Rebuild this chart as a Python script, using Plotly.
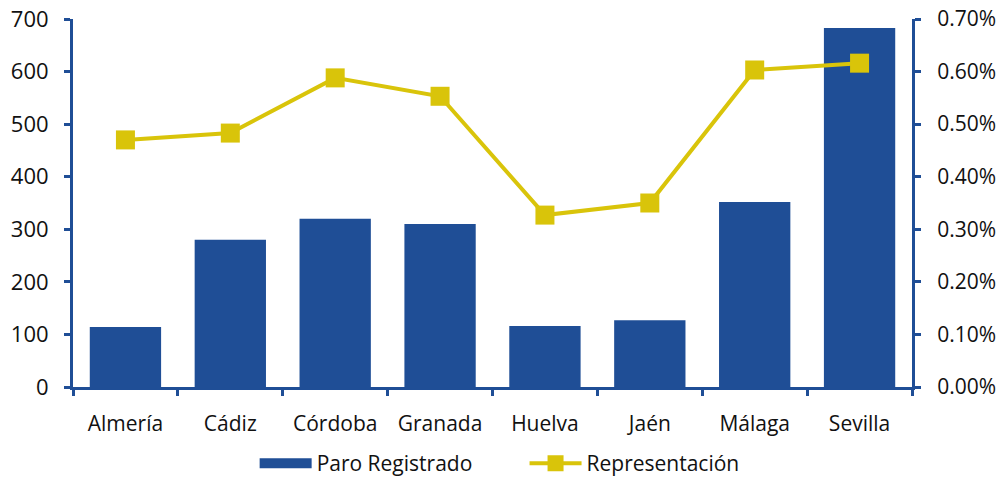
import plotly.graph_objects as go

provincias = ["Almería", "Cádiz", "Córdoba", "Granada", "Huelva", "Jaén", "Málaga", "Sevilla"]
paro_registrado = [114, 280, 320, 310, 116, 127, 352, 683]
representacion = [0.00470, 0.00483, 0.00588, 0.00553, 0.00327, 0.00350, 0.00603, 0.00616]

left_ticks = [0, 100, 200, 300, 400, 500, 600, 700]
right_ticks = [0, 0.001, 0.002, 0.003, 0.004, 0.005, 0.006, 0.007]

BLUE = "#1F4E96"
YELLOW = "#D9C40A"
FONT = "Open Sans"
FS = 21

fig = go.Figure()
fig.add_trace(go.Bar(x=provincias, y=paro_registrado, name="Paro Registrado",
                     marker=dict(color=BLUE, line=dict(width=0)), yaxis="y", showlegend=False))
# legend-only entry drawn as a wide rectangle, as in the reference
fig.add_trace(go.Scatter(x=[None], y=[None], name="Paro Registrado", mode="lines",
                         line=dict(color=BLUE, width=11), showlegend=True, legend="legend"))
fig.add_trace(go.Scatter(x=provincias, y=representacion, name="Representación",
                         mode="lines+markers", yaxis="y2", legend="legend2",
                         line=dict(color=YELLOW, width=4),
                         marker=dict(symbol="square", size=19, color=YELLOW)))

n = len(provincias)
fig.update_layout(
    width=1008, height=478,
    margin=dict(l=73, r=96, t=19, b=91, autoexpand=False),
    paper_bgcolor="white", plot_bgcolor="white",
    font=dict(family=FONT, size=FS, color="#111111"),
    bargap=0.32,
    showlegend=True,
    legend=dict(orientation="h", x=0.2165, xanchor="left", y=-0.208, yanchor="middle",
                font=dict(size=FS), itemwidth=52),
    legend2=dict(orientation="h", x=0.5382, xanchor="left", y=-0.208, yanchor="middle",
                 font=dict(size=FS), itemwidth=52),
    xaxis=dict(type="category", categoryarray=provincias, range=[-0.5, n - 0.5],
               showline=True, linecolor=BLUE, linewidth=3, showgrid=False, automargin=False,
               ticks="outside", tickson="boundaries", ticklen=6, tickwidth=3, tickcolor=BLUE,
               ticklabelstandoff=16, zeroline=False),
    yaxis=dict(range=[0, 700], tickvals=left_ticks, showline=True, linecolor=BLUE, linewidth=3,
               showgrid=False, zeroline=False, ticks="outside", ticklen=6, tickwidth=3,
               tickcolor=BLUE, ticklabelstandoff=11, automargin=False,
               ticklabeloverflow="allow", tickfont=dict(size=22)),
    yaxis2=dict(range=[0, 0.007], tickvals=right_ticks, tickformat=".2%", overlaying="y",
                side="right", showline=True, linecolor=BLUE, linewidth=3, showgrid=False,
                zeroline=False, ticks="outside", ticklen=6, tickwidth=3, tickcolor=BLUE,
                ticklabelstandoff=12, automargin=False, ticklabeloverflow="allow"),
    xaxis3=dict(overlaying="x", range=[-0.5, n - 0.5], tickvals=[i - 0.5 for i in range(n + 1)],
                showticklabels=False, ticks="inside", ticklen=6, tickwidth=3, tickcolor=BLUE,
                showgrid=False, zeroline=False, showline=False, anchor="y", automargin=False),
    yaxis3=dict(overlaying="y", range=[0, 700], tickvals=left_ticks, showticklabels=False,
                ticks="inside", ticklen=6, tickwidth=3, tickcolor=BLUE, showgrid=False,
                zeroline=False, showline=False, side="left", anchor="x", automargin=False),
    yaxis4=dict(overlaying="y", range=[0, 700], tickvals=left_ticks, showticklabels=False,
                ticks="inside", ticklen=6, tickwidth=3, tickcolor=BLUE, showgrid=False,
                zeroline=False, showline=False, side="right", anchor="x", automargin=False),
)

# remove the default page margin so the figure fills the 1008x478 window exactly
fig.write_html("out.html", config={"displayModeBar": False},
               post_script="document.body.style.margin='0';document.body.style.overflow='hidden';")
